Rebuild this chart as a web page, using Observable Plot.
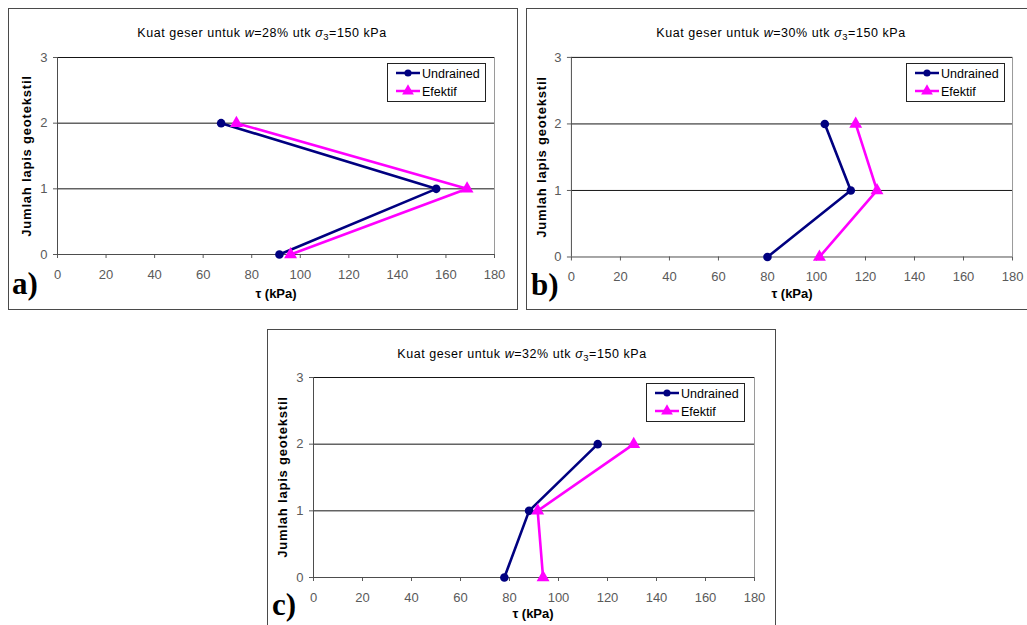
<!DOCTYPE html>
<html>
<head>
<meta charset="utf-8">
<script src="https://cdn.jsdelivr.net/npm/d3@7"></script>
<script src="https://cdn.jsdelivr.net/npm/@observablehq/plot@0.6"></script>
<style>
  html, body { margin: 0; padding: 0; background: #ffffff; }
  body { width: 1027px; height: 625px; position: relative; overflow: hidden;
         font-family: Arial, "Liberation Sans", sans-serif; }
  .chart { position: absolute; }
  .chart svg { display: block; overflow: visible; }
  .frame { position: absolute; box-sizing: border-box; border: 1px solid #4a4a4a; pointer-events: none; }
  #overlay { position: absolute; left: 0; top: 0; pointer-events: none; }
</style>
</head>
<body>
<script>
// Number of geotextile layers (y axis)
const layers = [0, 1, 2];

// Shear strength τ (kPa) for each layer count, per moisture content
const tauUndrainedA = [91.4, 156, 67.4];
const tauEfektifA   = [96, 168.7, 73.7];
const tauUndrainedB = [80, 114, 103.4];
const tauEfektifB   = [101.2, 124.7, 116];
const tauUndrainedC = [77.9, 88, 116];
const tauEfektifC   = [93.7, 91.5, 130.7];

const moistureContents = ["28%", "30%", "32%"];
const panelLetters = ["a)", "b)", "c)"];
const seriesNames = ["Undrained", "Efektif"];

const xTicks = [0, 20, 40, 60, 80, 100, 120, 140, 160, 180];
const yTicks = [0, 1, 2, 3];

const xLabel = "τ (kPa)";
const yLabel = "Jumlah lapis geotekstil";

// Page layout of the three panels (pixels)
const layout = [
  { frame: {x: 8,   y: 8,   w: 510, h: 302}, plot: {l: 57,  t: 57,  r: 494,  b: 254},
    title: {cx: 262, y: 37},  legend: {x: 387, y: 63},  ylab: {cx: 26,  cy: 156},
    xlab: {cx: 276, y: 298},  letter: {x: 12,  y: 294} },
  { frame: {x: 526, y: 8,   w: 502, h: 302}, plot: {l: 571, t: 57,  r: 1013, b: 257},
    title: {cx: 781, y: 37},  legend: {x: 906, y: 63},  ylab: {cx: 541, cy: 157},
    xlab: {cx: 792, y: 298},  letter: {x: 531, y: 295} },
  { frame: {x: 267, y: 329, w: 509, h: 302}, plot: {l: 313, t: 377, r: 754,  b: 577},
    title: {cx: 522, y: 358}, legend: {x: 646, y: 383}, ylab: {cx: 282, cy: 477},
    xlab: {cx: 533, y: 618},  letter: {x: 272, y: 615} }
];

const seriesData = [
  [tauUndrainedA, tauEfektifA],
  [tauUndrainedB, tauEfektifB],
  [tauUndrainedC, tauEfektifC]
];

const NAVY = "#000080";
const MAGENTA = "#ff00ff";
const AXIS = "#4d4d4d";
const TICK_TEXT = "#5a5a5a";

seriesData.forEach(([und, eff], i) => {
  const L = layout[i];
  const rowsU = layers.map((k, j) => ({layer: k, tau: und[j]}));
  const rowsE = layers.map((k, j) => ({layer: k, tau: eff[j]}));

  const chart = Plot.plot({
    width: L.frame.w,
    height: L.frame.h,
    marginLeft: L.plot.l - L.frame.x,
    marginTop: L.plot.t - L.frame.y,
    marginRight: L.frame.x + L.frame.w - L.plot.r,
    marginBottom: L.frame.y + L.frame.h - L.plot.b,
    style: {background: "none", fontFamily: "Arial, 'Liberation Sans', sans-serif",
            fontSize: "13px", color: TICK_TEXT},
    x: {domain: [0, 180]},
    y: {domain: [0, 3]},
    marks: [
      // horizontal gridlines and plot-area right edge
      Plot.ruleY(yTicks.filter(v => v > 0), {stroke: "#151515", strokeWidth: 1}),
      Plot.ruleX([180], {stroke: "#9a9a9a", strokeWidth: 1}),
      Plot.axisX({ticks: xTicks, tickSize: 4, tickPadding: 11, label: null, fontSize: 13,
                  tickFormat: d => String(d), color: TICK_TEXT}),
      Plot.axisY({ticks: yTicks, tickSize: 4, tickPadding: 6, label: null, fontSize: 13,
                  tickFormat: d => String(d), color: TICK_TEXT}),
      Plot.ruleX([0], {stroke: AXIS}),
      Plot.ruleY([0], {stroke: AXIS}),
      // Undrained series
      Plot.line(rowsU, {x: "tau", y: "layer", stroke: NAVY, strokeWidth: 2.6}),
      Plot.dot(rowsU, {x: "tau", y: "layer", r: 4.3, fill: NAVY, symbol: "circle"}),
      // Effective series
      Plot.line(rowsE, {x: "tau", y: "layer", stroke: MAGENTA, strokeWidth: 2.6}),
      Plot.dot(rowsE, {x: "tau", y: "layer", r: 4.8, fill: MAGENTA, symbol: "triangle"})
    ]
  });

  const holder = document.createElement("div");
  holder.className = "chart";
  holder.style.left = L.frame.x + "px";
  holder.style.top = L.frame.y + "px";
  holder.appendChild(chart);
  document.body.appendChild(holder);

  const frame = document.createElement("div");
  frame.className = "frame";
  Object.assign(frame.style, {left: L.frame.x + "px", top: L.frame.y + "px",
                              width: L.frame.w + "px", height: L.frame.h + "px"});
  document.body.appendChild(frame);
});

// Titles, axis labels, legends and panel letters
const svg = d3.select("body").append("svg")
  .attr("id", "overlay").attr("width", 1027).attr("height", 625)
  .style("font-family", "Arial, 'Liberation Sans', sans-serif");

layout.forEach((L, i) => {
  // title
  const t = svg.append("text")
    .attr("x", L.title.cx).attr("y", L.title.y)
    .attr("text-anchor", "middle").attr("font-size", 12.5)
    .attr("letter-spacing", 0.55).attr("fill", "#000");
  t.append("tspan").text("Kuat geser untuk ");
  t.append("tspan").attr("font-style", "italic").text("w");
  t.append("tspan").text("=" + moistureContents[i] + " utk ");
  t.append("tspan").attr("font-style", "italic").text("σ");
  t.append("tspan").attr("font-size", 9.5).attr("dy", 3).text("3");
  t.append("tspan").attr("dy", -3).text("=150 kPa");

  // axis labels
  svg.append("text")
    .attr("x", L.xlab.cx).attr("y", L.xlab.y)
    .attr("text-anchor", "middle").attr("font-size", 13).attr("font-weight", "bold")
    .attr("fill", "#000").text(xLabel);
  svg.append("text")
    .attr("transform", `translate(${L.ylab.cx},${L.ylab.cy}) rotate(-90)`)
    .attr("text-anchor", "middle").attr("dy", "0.35em")
    .attr("font-size", 13).attr("font-weight", "bold").attr("letter-spacing", 0.8)
    .attr("fill", "#000").text(yLabel);

  // panel letter
  svg.append("text")
    .attr("x", L.letter.x).attr("y", L.letter.y)
    .attr("font-family", "'Liberation Serif', 'DejaVu Serif', serif")
    .attr("font-size", 31).attr("font-weight", "bold").attr("fill", "#000")
    .text(panelLetters[i]);

  // legend
  const g = svg.append("g").attr("transform", `translate(${L.legend.x},${L.legend.y})`);
  g.append("rect").attr("x", 0.5).attr("y", 0.5).attr("width", 98).attr("height", 38)
    .attr("fill", "#fff").attr("stroke", "#222");
  const colors = [NAVY, MAGENTA];
  seriesNames.forEach((name, k) => {
    const cy = 10 + k * 18;
    g.append("line").attr("x1", 9).attr("x2", 33).attr("y1", cy).attr("y2", cy)
      .attr("stroke", colors[k]).attr("stroke-width", 2.5);
    g.append("path")
      .attr("transform", `translate(21,${cy})`)
      .attr("d", d3.symbol(k === 0 ? d3.symbolCircle : d3.symbolTriangle, k === 0 ? 40 : 60)())
      .attr("fill", colors[k]);
    g.append("text").attr("x", 35).attr("y", cy + 4.5)
      .attr("font-size", 12.5).attr("fill", "#000").text(name);
  });
});
</script>
</body>
</html>
